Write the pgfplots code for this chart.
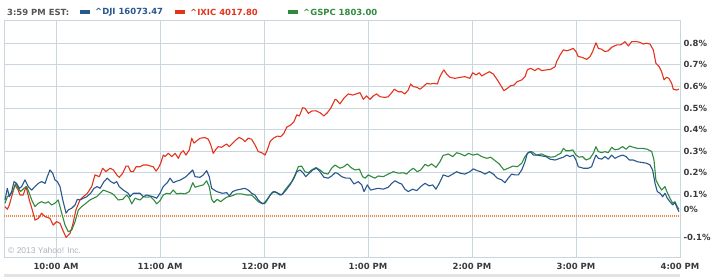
\documentclass[border=0pt]{standalone}
\usepackage{fontspec}
\setmainfont{DejaVu Sans}
\newfontfamily\arialf{Liberation Sans}
\usepackage{pgfplots}
\pgfplotsset{compat=1.18}
\definecolor{djiblue}{HTML}{27578F}
\definecolor{ixicred}{HTML}{E2341D}
\definecolor{gspcgreen}{HTML}{2E8B3E}
\definecolor{gridc}{HTML}{C9D5DF}
\definecolor{zeroc}{HTML}{F08A4B}
\definecolor{tickc}{HTML}{3A3A3A}
\definecolor{hdr}{HTML}{555555}
\definecolor{copyc}{HTML}{A9B4BF}
\newcommand{\hfont}{\fontsize{8.5}{10}\selectfont\bfseries}
\begin{document}
\begin{tikzpicture}
\begin{axis}[
  at={(0,0)}, anchor=south west,
  scale only axis, width=676bp, height=237bp,
  xmin=0, xmax=390, ymin=-0.19, ymax=0.9074,
  xtick={30,90,150,210,270,330,390},
  xticklabels={10:00 AM,11:00 AM,12:00 PM,1:00 PM,2:00 PM,3:00 PM,4:00 PM},
  ytick={-0.1,0.1,0.2,0.3,0.4,0.5,0.6,0.7,0.8},
  yticklabels={-0.1\%,0.1\%,0.2\%,0.3\%,0.4\%,0.5\%,0.6\%,0.7\%,0.8\%},
  extra y ticks={0}, extra y tick labels={0\%},
  extra y tick style={major grid style={draw=zeroc, line width=1.2bp, dash pattern=on 1bp off 1bp}, yticklabel style={yshift=7bp}},
  yticklabel pos=right,
  grid=major,
  major grid style={draw=gridc, line width=0.8bp},
  axis line style={draw=gridc, line width=0.8bp},
  tick style={draw=none},
  ticklabel style={font=\hfont, text=tickc},
  xticklabel style={yshift=-3bp},
  line join=round,
]
\addplot[ixicred, line width=1.1bp] coordinates {
(0.6,0.043)(1.9,0.031)(3.1,0.051)(4.4,0.089)(6.3,0.144)(8.2,0.120)(9.2,0.097)(11.1,0.097)(12.7,0.136)(14.6,0.074)(16.0,0.037)(17.9,-0.019)(19.8,-0.011)(21.7,0.013)(23.7,-0.003)(26.5,-0.011)(28.4,-0.042)(30.4,-0.026)(32.3,-0.034)(33.9,-0.065)(35.8,-0.099)(38.1,-0.080)(39.6,-0.042)(41.5,0.028)(43.8,0.074)(45.7,0.089)(48.1,0.105)(50.6,0.136)(52.5,0.190)(55.0,0.182)(56.9,0.221)(58.8,0.205)(61.2,0.221)(63.1,0.213)(65.1,0.190)(66.5,0.179)(68.5,0.198)(70.4,0.231)(71.7,0.231)(73.1,0.205)(74.6,0.205)(76.2,0.228)(78.5,0.228)(80.4,0.236)(82.7,0.236)(84.6,0.231)(86.1,0.228)(87.7,0.208)(89.0,0.221)(90.4,0.244)(91.9,0.282)(92.9,0.275)(94.8,0.290)(96.8,0.275)(98.7,0.290)(100.6,0.267)(101.9,0.290)(103.4,0.302)(105.0,0.282)(106.9,0.306)(108.3,0.360)(109.6,0.337)(111.2,0.348)(113.1,0.360)(116.0,0.363)(117.9,0.355)(119.3,0.329)(120.7,0.290)(122.3,0.309)(123.6,0.321)(125.6,0.318)(127.5,0.329)(128.5,0.333)(130.0,0.321)(131.9,0.337)(133.8,0.352)(135.7,0.364)(137.7,0.355)(139.0,0.344)(140.9,0.360)(142.9,0.355)(144.8,0.329)(146.7,0.298)(148.7,0.293)(150.6,0.282)(151.9,0.306)(153.5,0.344)(155.4,0.360)(157.7,0.370)(159.6,0.367)(161.5,0.383)(163.1,0.411)(165.4,0.421)(167.3,0.437)(168.9,0.468)(170.4,0.463)(172.3,0.501)(173.6,0.499)(175.6,0.475)(177.5,0.486)(180.0,0.487)(182.3,0.478)(184.6,0.463)(186.5,0.478)(188.5,0.499)(191.0,0.540)(191.9,0.537)(193.8,0.519)(196.1,0.545)(198.6,0.565)(201.2,0.560)(203.1,0.565)(205.4,0.571)(207.3,0.540)(209.2,0.556)(211.1,0.540)(213.1,0.556)(215.0,0.565)(216.9,0.552)(219.8,0.549)(221.7,0.552)(223.7,0.571)(225.2,0.587)(227.5,0.575)(229.4,0.575)(231.3,0.565)(233.2,0.583)(234.6,0.611)(236.1,0.599)(238.1,0.596)(240.0,0.587)(241.9,0.599)(243.9,0.614)(245.8,0.611)(248.1,0.614)(250.0,0.611)(251.5,0.645)(253.4,0.673)(253.8,0.676)(255.4,0.657)(257.3,0.642)(260.2,0.637)(263.1,0.642)(265.9,0.645)(268.8,0.637)(270.4,0.663)(272.3,0.653)(274.2,0.663)(275.6,0.648)(277.5,0.657)(280.0,0.668)(282.3,0.657)(284.6,0.630)(286.5,0.606)(288.4,0.580)(290.4,0.591)(292.3,0.603)(294.2,0.606)(296.1,0.622)(298.7,0.630)(300.6,0.645)(301.9,0.676)(303.8,0.684)(306.3,0.673)(308.2,0.684)(310.2,0.673)(312.7,0.676)(315.4,0.679)(317.9,0.691)(318.8,0.714)(320.8,0.745)(322.7,0.769)(324.6,0.765)(326.5,0.769)(328.4,0.776)(330.0,0.761)(331.3,0.738)(333.3,0.735)(336.2,0.725)(338.1,0.738)(339.6,0.761)(341.5,0.802)(342.9,0.776)(344.8,0.772)(346.7,0.761)(348.6,0.765)(350.6,0.781)(353.5,0.792)(355.8,0.792)(358.3,0.807)(360.2,0.787)(362.1,0.807)(365.0,0.807)(366.9,0.804)(368.8,0.796)(370.8,0.800)(372.7,0.796)(374.6,0.769)(376.1,0.707)(378.0,0.691)(379.4,0.668)(380.8,0.630)(382.3,0.642)(383.6,0.637)(385.2,0.614)(386.1,0.587)(388.1,0.583)(389.4,0.587)
};
\addplot[gspcgreen, line width=1.1bp] coordinates {
(0.6,0.059)(1.9,0.089)(3.5,0.097)(5.0,0.113)(6.9,0.151)(8.2,0.128)(9.6,0.113)(11.5,0.128)(13.1,0.136)(14.6,0.105)(16.0,0.074)(17.9,0.043)(19.8,0.059)(21.7,0.066)(23.7,0.059)(25.6,0.066)(27.5,0.051)(29.4,0.059)(31.3,0.074)(33.3,0.013)(35.2,-0.042)(37.1,-0.073)(39.1,-0.065)(41.0,-0.026)(42.9,0.028)(44.8,0.043)(47.3,0.059)(49.6,0.074)(51.5,0.082)(53.5,0.089)(55.4,0.105)(57.3,0.120)(59.6,0.113)(62.1,0.105)(63.5,0.097)(65.9,0.074)(68.5,0.077)(70.8,0.097)(72.3,0.082)(73.7,0.056)(75.6,0.082)(78.5,0.074)(80.4,0.089)(82.5,0.087)(84.6,0.089)(86.5,0.074)(88.1,0.056)(90.0,0.071)(91.9,0.097)(93.9,0.105)(95.8,0.102)(97.7,0.120)(99.6,0.102)(101.9,0.105)(104.4,0.102)(106.9,0.113)(108.9,0.154)(110.2,0.133)(112.7,0.139)(115.0,0.144)(116.9,0.163)(118.4,0.136)(119.8,0.077)(121.1,0.062)(123.0,0.077)(125.0,0.066)(127.5,0.082)(128.5,0.087)(131.4,0.093)(134.2,0.102)(137.1,0.102)(140.0,0.097)(142.9,0.097)(144.8,0.082)(146.7,0.066)(149.2,0.056)(150.6,0.059)(152.5,0.082)(154.4,0.105)(156.3,0.113)(158.2,0.105)(160.2,0.097)(162.1,0.120)(164.0,0.139)(166.0,0.159)(167.9,0.190)(169.8,0.228)(171.7,0.231)(173.6,0.205)(175.6,0.200)(177.5,0.213)(180.0,0.224)(182.3,0.213)(184.6,0.198)(186.9,0.194)(189.0,0.221)(191.0,0.236)(191.9,0.231)(193.8,0.221)(196.1,0.228)(198.1,0.241)(200.0,0.225)(202.5,0.213)(205.0,0.217)(206.9,0.182)(208.3,0.175)(210.2,0.190)(212.1,0.182)(214.0,0.175)(215.9,0.185)(218.8,0.182)(221.7,0.194)(224.6,0.205)(227.5,0.198)(230.4,0.200)(232.3,0.194)(234.2,0.210)(236.1,0.221)(238.4,0.205)(240.4,0.213)(242.9,0.239)(244.8,0.231)(246.7,0.241)(249.2,0.225)(251.5,0.251)(253.4,0.282)(254.4,0.282)(256.3,0.287)(258.9,0.275)(261.2,0.293)(263.5,0.287)(265.9,0.278)(267.9,0.290)(270.7,0.282)(273.1,0.287)(275.6,0.275)(278.5,0.267)(280.8,0.272)(283.3,0.256)(285.7,0.241)(288.4,0.213)(290.9,0.221)(293.5,0.231)(296.1,0.228)(298.7,0.244)(300.6,0.275)(302.5,0.293)(304.4,0.298)(307.3,0.282)(310.2,0.287)(312.7,0.278)(315.4,0.272)(317.9,0.275)(319.2,0.282)(321.2,0.290)(322.7,0.313)(324.2,0.302)(326.2,0.302)(328.1,0.306)(330.0,0.282)(331.9,0.272)(333.8,0.275)(335.8,0.259)(338.1,0.267)(340.0,0.290)(341.5,0.321)(342.9,0.298)(344.8,0.293)(346.7,0.298)(348.6,0.293)(350.6,0.318)(352.5,0.306)(354.4,0.309)(356.9,0.321)(358.9,0.309)(360.8,0.324)(363.1,0.318)(365.4,0.313)(368.5,0.313)(371.1,0.309)(373.7,0.298)(375.0,0.259)(376.1,0.167)(377.5,0.144)(379.4,0.120)(381.3,0.136)(382.7,0.108)(384.2,0.082)(385.8,0.059)(387.1,0.066)(388.4,0.043)(389.4,0.031)
};
\addplot[djiblue, line width=1.1bp] coordinates {
(0.6,0.074)(1.9,0.128)(3.1,0.089)(4.4,0.113)(5.8,0.159)(7.3,0.151)(8.8,0.128)(10.2,0.136)(12.1,0.167)(14.0,0.136)(16.0,0.120)(17.9,0.136)(19.8,0.151)(21.7,0.159)(23.7,0.151)(25.0,0.182)(26.5,0.213)(28.1,0.198)(29.4,0.167)(30.8,0.159)(32.3,0.136)(33.9,0.074)(35.8,0.013)(37.1,0.028)(39.1,0.036)(41.0,0.051)(42.3,0.077)(43.8,0.074)(45.7,0.082)(47.7,0.089)(50.0,0.105)(51.9,0.128)(53.8,0.136)(55.4,0.128)(57.7,0.159)(59.6,0.175)(61.6,0.159)(63.5,0.151)(65.0,0.159)(66.5,0.136)(68.8,0.120)(71.7,0.105)(72.7,0.089)(74.6,0.105)(78.5,0.105)(80.4,0.089)(82.3,0.097)(86.1,0.089)(88.1,0.082)(90.0,0.105)(91.9,0.136)(94.2,0.154)(95.8,0.175)(97.7,0.154)(99.6,0.161)(101.9,0.167)(105.0,0.182)(107.3,0.200)(108.9,0.213)(110.2,0.182)(113.1,0.179)(115.0,0.190)(116.9,0.210)(118.4,0.182)(119.8,0.128)(122.7,0.113)(124.6,0.108)(126.2,0.105)(128.5,0.108)(130.0,0.093)(131.9,0.113)(134.2,0.120)(136.5,0.124)(139.0,0.128)(140.9,0.120)(142.9,0.105)(144.8,0.097)(146.7,0.074)(148.7,0.059)(150.0,0.059)(151.6,0.074)(153.5,0.097)(155.4,0.113)(157.3,0.108)(159.2,0.097)(160.8,0.102)(162.7,0.120)(165.0,0.144)(167.3,0.175)(168.9,0.205)(170.8,0.213)(172.7,0.198)(174.1,0.182)(176.1,0.198)(178.1,0.213)(180.4,0.221)(182.3,0.205)(184.6,0.179)(187.1,0.175)(189.0,0.185)(191.0,0.200)(192.3,0.198)(194.8,0.182)(197.3,0.175)(199.6,0.175)(201.9,0.148)(204.4,0.159)(206.4,0.144)(207.7,0.113)(209.6,0.144)(211.5,0.120)(213.5,0.124)(215.9,0.128)(218.8,0.124)(221.7,0.133)(223.7,0.151)(225.6,0.163)(227.5,0.154)(229.4,0.148)(231.3,0.124)(233.2,0.113)(235.8,0.124)(238.1,0.117)(240.4,0.136)(242.9,0.151)(245.4,0.139)(247.3,0.144)(249.2,0.124)(251.1,0.151)(253.4,0.190)(256.3,0.182)(258.9,0.194)(261.2,0.205)(263.1,0.198)(265.9,0.194)(268.8,0.205)(270.7,0.218)(272.9,0.210)(275.0,0.205)(277.5,0.194)(280.0,0.205)(282.3,0.194)(284.6,0.175)(287.1,0.167)(289.0,0.154)(290.9,0.175)(292.9,0.194)(294.8,0.190)(296.7,0.190)(298.7,0.213)(300.6,0.251)(301.9,0.290)(303.5,0.298)(305.4,0.282)(307.7,0.282)(310.2,0.278)(312.7,0.275)(315.0,0.263)(317.9,0.259)(320.8,0.267)(322.7,0.272)(324.6,0.282)(326.5,0.275)(328.4,0.282)(330.0,0.259)(331.3,0.228)(334.2,0.221)(337.1,0.221)(339.0,0.228)(340.4,0.259)(341.5,0.282)(342.9,0.267)(344.8,0.263)(346.7,0.275)(348.6,0.263)(350.6,0.282)(352.5,0.267)(354.4,0.275)(356.9,0.282)(358.9,0.275)(360.8,0.259)(363.1,0.259)(365.4,0.251)(368.5,0.247)(370.8,0.244)(372.7,0.236)(374.2,0.213)(375.6,0.151)(376.9,0.113)(378.5,0.105)(380.0,0.089)(381.3,0.105)(382.7,0.082)(384.2,0.066)(385.8,0.051)(387.1,0.062)(388.4,0.036)(389.4,0.020)
};
\end{axis}
\fill[gray!22] (0bp,-16.5bp) rectangle (676bp,-19.5bp);
\node[anchor=west, inner sep=0, text=hdr, font=\hfont] at (3bp,245bp) {3:59 PM EST:};
\fill[djiblue] (76bp,242.8bp) rectangle (86bp,247.2bp);
\node[anchor=west, inner sep=0, text=djiblue, font=\hfont] at (91bp,245bp) {\textasciicircum DJI 16073.47};
\fill[ixicred] (171bp,242.8bp) rectangle (181bp,247.2bp);
\node[anchor=west, inner sep=0, text=ixicred, font=\hfont] at (186bp,245bp) {\textasciicircum IXIC 4017.80};
\fill[gspcgreen] (284bp,242.8bp) rectangle (294bp,247.2bp);
\node[anchor=west, inner sep=0, text=gspcgreen, font=\hfont] at (299bp,245bp) {\textasciicircum GSPC 1803.00};
\node[anchor=west, inner sep=0, text=copyc, font=\arialf\fontsize{8.5}{10}\selectfont] at (4bp,7bp) {\textcopyright{} 2013 Yahoo! Inc.};
\pgfresetboundingbox
\useasboundingbox (-4bp,-20bp) rectangle (713bp,257bp);
\end{tikzpicture}
\end{document}
